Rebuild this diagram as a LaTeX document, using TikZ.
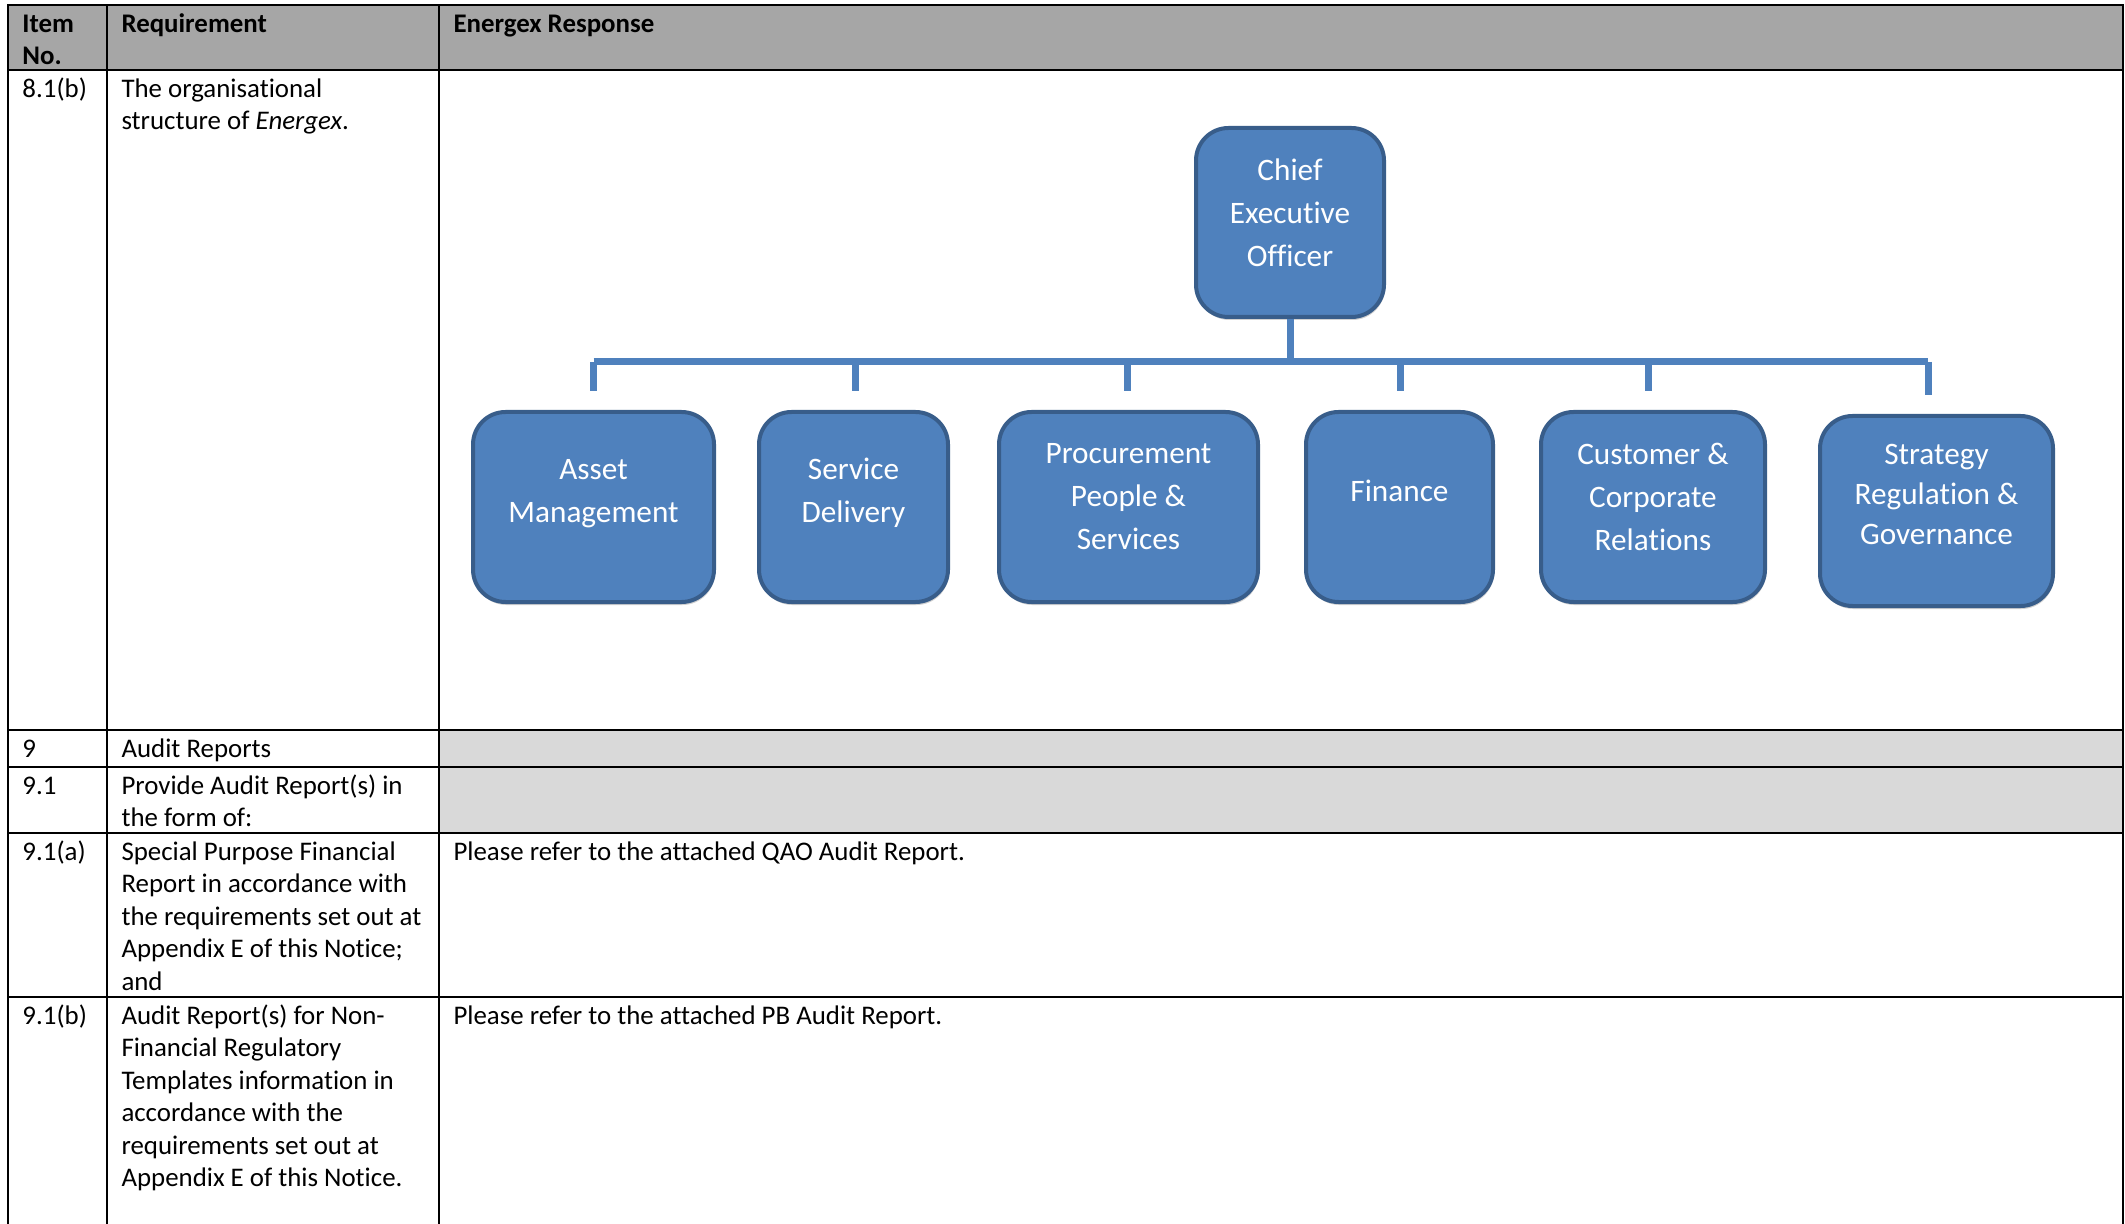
\documentclass[tikz,border=0pt]{standalone}
\usepackage{fontspec}
\setmainfont{Carlito}[Ligatures=NoCommon]
\usetikzlibrary{shadows}

\definecolor{unitblue}{HTML}{4F81BD}
\definecolor{unitedge}{HTML}{385D8A}
\definecolor{headgray}{HTML}{A6A6A6}
\definecolor{cellgray}{HTML}{D9D9D9}

\tikzstyle{cell} = [font=\fontsize{10.75}{13}\selectfont, anchor=north west, inner sep=0pt, align=left]
\tikzstyle{head} = [cell, font=\fontsize{10.75}{13}\selectfont\bfseries]
\tikzstyle{rule} = [draw, line width=1.1pt, line cap=rect]
\tikzstyle{unit} = [shape=rectangle, rounded corners=13pt, draw=unitedge, line width=1.6pt, fill=unitblue, minimum height=76pt, drop shadow={shadow xshift=0.4pt, shadow yshift=-1.2pt, opacity=0.3, fill=black!60}]
\tikzstyle{unit text} = [font=\fontsize{12.5}{17.2}\selectfont, text=white, align=center, inner sep=0pt]
\tikzstyle{link} = [draw=unitblue, line width=2.8pt]

\begin{document}
\begin{tikzpicture}[x=0.4pt, y=-0.4pt]
    \useasboundingbox (0,0) rectangle (2125,1224);
    %% table shading and rules
    \fill[headgray] (8,5) rectangle (2123,70);
    \fill[cellgray] (439,730) rectangle (2123,833);
    \foreach \y in {5,70,730,767,833,997}
      \draw[rule] (8,\y) -- (2123,\y);
    \foreach \x in {8,107,439,2123}
      \draw[rule] (\x,5) -- (\x,1224);
    %% table texts
    \node[head] (h-item) at (22,9) {\strut Item\\No.};
    \node[head] (h-req) at (121,9) {\strut Requirement};
    \node[head] (h-resp) at (453,9) {\strut Energex Response};
    \foreach \nodename/\y/\itemno/\req in {
      r81b/74/{8.1(b)}/{The organisational\\structure of \textit{Energex}.},
      r9/734/{9}/{Audit Reports},
      r91/771/{9.1}/{Provide Audit Report(s) in\\the form of:},
      r91a/837/{9.1(a)}/{Special Purpose Financial\\Report in accordance with\\the requirements set out at\\Appendix E of this Notice;\\and},
      r91b/1001/{9.1(b)}/{Audit Report(s) for Non-\\Financial Regulatory\\Templates information in\\accordance with the\\requirements set out at\\Appendix E of this Notice.}}
    {
      \node[cell] (\nodename-item) at (22,\y) {\strut\itemno};
      \node[cell] (\nodename-req) at (121,\y) {\strut\req};
    }
    \node[cell] (r91a-resp) at (453,837) {\strut Please refer to the attached QAO Audit Report.};
    \node[cell] (r91b-resp) at (453,1001) {\strut Please refer to the attached PB Audit Report.};
    %% units of the organisation
    \node[unit, minimum width=75.2pt, minimum height=75.6pt] (ceo) at (1290,222.5) {};
    \node[unit text] (ceo-text) at ([yshift=4pt]ceo.center) {Chief\\Executive\\Officer};
    \foreach \nodename/\x/\y/\w/\up/\txt in {
      asset/593.5/507/241/5.2pt/{Asset\\Management},
      service/853.5/507/189/5.6pt/{Service\\Delivery},
      procure/1128.5/507/259/4pt/{Procurement\\People \&\\Services},
      finance/1399.5/507/187/6.4pt/{Finance},
      customer/1653/507/224/4pt/{Customer \&\\Corporate\\Relations},
      strategy/1936.5/511/233/6.8pt/{Strategy\\[-1.2pt]Regulation \&\\[-1.2pt]Governance}}
    {
      \node[unit, minimum width=\w*0.4pt] (\nodename) at (\x,\y) {};
      \node[unit text] (\nodename-text) at ([yshift=\up]\nodename.center) {\txt};
    }
    %% links
    \foreach \nodename/\dx in {asset/0, service/1.5, procure/-1.5, finance/0.5, customer/-5, strategy/-8.5}
      \coordinate (\nodename-top) at ([xshift=\dx*0.4pt, yshift=7.6pt]\nodename.north);
    \coordinate (bar-l) at (asset-top |- 0,362);
    \coordinate (bar-r) at (strategy-top |- 0,362);
    \draw[link] (ceo.south) -- (ceo.south |- bar-l);
    \draw[link] (bar-l) -- (bar-r);
    \foreach \nodename in {asset,service,procure,finance,customer,strategy}
      \draw[link] (\nodename-top |- bar-l) -- (\nodename-top);
\end{tikzpicture}
\end{document}
